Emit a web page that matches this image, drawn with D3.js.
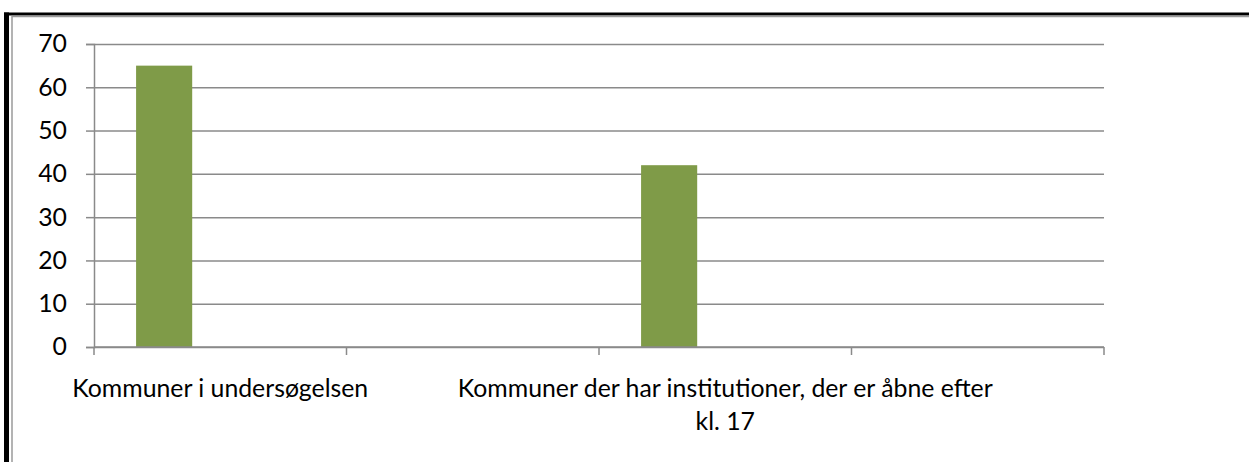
<!DOCTYPE html>
<html>
<head>
<meta charset="utf-8">
<script src="https://cdn.jsdelivr.net/npm/d3@7"></script>
<style>
  body { margin: 0; background: #fff; }
  svg { display: block; font-family: Lato, "Open Sans", sans-serif; }
</style>
</head>
<body>
<div id="chart"></div>
<script>
// categories (the 2nd and 4th labels are hidden in the original, Excel skipped them)
const categories = ['Kommuner i undersøgelsen', '', 'Kommuner der har institutioner, der er åbne efter kl. 17', ''];
const series = ['s1', 's2', 's3'];
const values = {
  s1: [65, null, 42, null],
  s2: [null, null, null, null],
  s3: [null, null, null, null]
};
const yTicks = [0, 10, 20, 30, 40, 50, 60, 70];

const width = 1249;
const height = 462;
const plot = { left: 94, right: 1104, top: 44, bottom: 347 };
const barColor = '#7f9b48';
const gridColor = '#8a8a8a';
const fontSize = '24.8px';
const fontFamily = 'Lato, "Open Sans", sans-serif';

const svg = d3.select('#chart').append('svg')
  .attr('width', width)
  .attr('height', height);

// frame like the original document border
svg.append('rect').attr('x', 4).attr('y', 12.5).attr('width', 5).attr('height', height).attr('fill', '#000');
svg.append('rect').attr('x', 4).attr('y', 12.5).attr('width', width).attr('height', 3).attr('fill', '#000');
svg.append('rect').attr('x', 12).attr('y', 16.5).attr('width', width).attr('height', height)
  .attr('fill', 'none').attr('stroke', '#9a9a9a').attr('stroke-width', 1.5);

const x = d3.scaleBand().domain(d3.range(categories.length)).range([plot.left, plot.right]).padding(0);
const xInner = d3.scaleBand().domain(series).range([0, x.bandwidth()]).paddingInner(0).paddingOuter(0.75);
const y = d3.scaleLinear().domain([0, 70]).range([plot.bottom, plot.top]);

// gridlines
svg.append('g')
  .attr('class', 'gridlines')
  .attr('transform', `translate(${plot.left}, 0)`)
  .call(d3.axisLeft(y).tickValues(yTicks).tickFormat('').tickSize(-(plot.right - plot.left)))
  .call(g => g.select('.domain').remove())
  .call(g => g.selectAll('line').attr('stroke', gridColor).attr('stroke-width', 1.5));

// y axis
svg.append('g')
  .attr('transform', `translate(${plot.left}, 0)`)
  .call(d3.axisLeft(y).tickValues(yTicks).tickSize(8).tickPadding(19))
  .attr('font-family', fontFamily)
  .attr('font-size', fontSize)
  .call(g => g.select('.domain').attr('stroke', gridColor).attr('stroke-width', 1.5))
  .call(g => g.selectAll('line').attr('stroke', gridColor).attr('stroke-width', 1.5))
  .call(g => g.selectAll('text').attr('fill', '#000'));

// bars
series.forEach(s => {
  svg.append('g').selectAll('rect')
    .data(values[s].map((v, i) => ({ i, v })).filter(d => d.v != null))
    .join('rect')
    .attr('x', d => x(d.i) + xInner(s))
    .attr('width', xInner.bandwidth())
    .attr('y', d => y(d.v))
    .attr('height', d => y(0) - y(d.v))
    .attr('fill', barColor);
});

// x axis line + boundary ticks
const bounds = categories.map((c, i) => x(i)).concat([plot.right]);
svg.append('line')
  .attr('x1', plot.left).attr('x2', plot.right)
  .attr('y1', y(0)).attr('y2', y(0))
  .attr('stroke', gridColor).attr('stroke-width', 1.5);
svg.append('g').selectAll('line')
  .data(bounds)
  .join('line')
  .attr('x1', d => d).attr('x2', d => d)
  .attr('y1', y(0)).attr('y2', y(0) + 8)
  .attr('stroke', gridColor).attr('stroke-width', 1.5);

// category labels, wrapped
const labels = svg.append('g').style('font-size', fontSize).attr('fill', '#000');
categories.forEach((c, i) => {
  if (!c) return;
  const cx = x(i) + x.bandwidth() / 2;
  const t = labels.append('text')
    .attr('x', cx)
    .attr('y', 397)
    .attr('text-anchor', 'middle');
  const words = c.split(' ');
  let line = [];
  let tspan = t.append('tspan').attr('x', cx).attr('dy', 0);
  words.forEach(w => {
    line.push(w);
    tspan.text(line.join(' '));
    if (tspan.node().getComputedTextLength() > 550 && line.length > 1) {
      line.pop();
      tspan.text(line.join(' '));
      line = [w];
      tspan = t.append('tspan').attr('x', cx).attr('dy', 33).text(w);
    }
  });
});
</script>
</body>
</html>
